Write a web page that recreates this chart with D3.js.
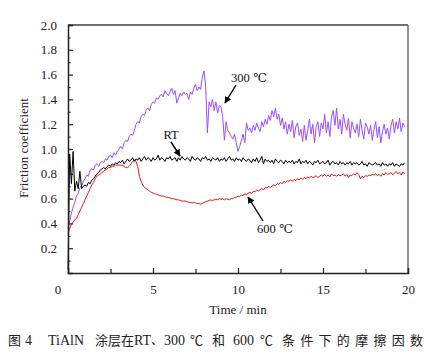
<!DOCTYPE html>
<html><head><meta charset="utf-8">
<script src="https://cdn.jsdelivr.net/npm/d3@7/dist/d3.min.js"></script>
<style>body{margin:0;background:#fff}svg{display:block}
svg text{font-family:"Liberation Serif","DejaVu Serif",serif}
svg text.cjk{font-family:"Noto Sans CJK SC",sans-serif}</style>
</head><body>
<svg id="c" width="431" height="359"></svg>
<script>
// sampling interval of the recorded curves (min)
const timeStep = 0.1;
// RT (black)
const rtValues = [
0.03,0.96,0.72,0.98,0.66,0.74,0.68,0.82,0.68,0.70,
0.71,0.70,0.73,0.72,0.75,0.76,0.78,0.80,0.81,0.83,
0.84,0.85,0.84,0.86,0.87,0.86,0.88,0.87,0.89,0.88,
0.90,0.89,0.91,0.88,0.90,0.92,0.90,0.91,0.93,0.90,
0.92,0.91,0.93,0.90,0.92,0.94,0.91,0.93,0.92,0.90,
0.93,0.91,0.92,0.95,0.91,0.93,0.92,0.90,0.93,0.92,
0.94,0.91,0.92,0.93,0.90,0.93,0.91,0.94,0.92,0.91,
0.93,0.92,0.90,0.94,0.92,0.91,0.93,0.92,0.90,0.93,
0.92,0.94,0.91,0.92,0.90,0.93,0.92,0.91,0.93,0.90,
0.92,0.91,0.93,0.90,0.92,0.94,0.91,0.92,0.90,0.93,
0.91,0.92,0.90,0.93,0.91,0.90,0.92,0.91,0.89,0.92,
0.90,0.93,0.89,0.91,0.94,0.88,0.92,0.90,0.91,0.89,
0.91,0.88,0.92,0.90,0.89,0.91,0.90,0.88,0.91,0.89,
0.90,0.89,0.91,0.88,0.90,0.89,0.92,0.88,0.90,0.89,
0.91,0.88,0.90,0.89,0.87,0.90,0.89,0.91,0.88,0.89,
0.90,0.88,0.89,0.91,0.87,0.89,0.90,0.88,0.89,0.87,
0.90,0.88,0.89,0.87,0.89,0.88,0.90,0.87,0.89,0.88,
0.89,0.87,0.88,0.90,0.87,0.88,0.86,0.89,0.88,0.87,
0.88,0.89,0.87,0.88,0.86,0.89,0.87,0.88,0.86,0.88,
0.87,0.89,0.86,0.88,0.87,0.86,0.88,0.87,0.89];
// 300 °C (purple)
const t300Values = [
0.36,0.42,0.48,0.53,0.57,0.62,0.64,0.69,0.70,0.74,
0.76,0.79,0.78,0.83,0.84,0.83,0.87,0.88,0.86,0.89,
0.90,0.89,0.92,0.91,0.94,0.95,0.93,0.97,0.95,0.98,
1.00,1.02,1.00,1.05,1.07,1.06,1.10,1.12,1.11,1.15,
1.20,1.22,1.21,1.26,1.28,1.27,1.32,1.33,1.31,1.36,
1.38,1.37,1.41,1.40,1.43,1.44,1.42,1.47,1.45,1.43,
1.46,1.49,1.44,1.47,1.37,1.41,1.45,1.43,1.46,1.44,
1.45,1.40,1.46,1.44,1.49,1.52,1.47,1.50,1.48,1.58,
1.63,1.50,1.13,1.38,1.34,1.40,1.31,1.38,1.29,1.35,
1.34,1.26,1.07,1.22,1.15,1.13,1.10,1.08,1.12,1.05,
0.98,1.02,1.07,1.12,1.05,1.21,1.15,1.17,1.13,1.19,
1.15,1.21,1.17,1.14,1.22,1.18,1.24,1.20,1.27,1.23,
1.31,1.26,1.33,1.24,1.28,1.19,1.25,1.16,1.22,1.12,
1.20,1.14,1.23,1.09,1.18,1.21,1.11,1.16,1.06,1.19,
1.07,1.15,1.24,1.12,1.20,1.05,1.18,1.22,1.10,1.21,
1.16,1.28,1.13,1.22,1.10,1.26,1.31,1.19,1.33,1.16,
1.24,1.12,1.28,1.20,1.15,1.25,1.09,1.22,1.17,1.13,
1.20,1.10,1.24,1.15,1.08,1.21,1.18,1.12,1.19,1.07,
1.16,1.22,1.09,1.18,1.05,1.14,1.20,1.12,1.17,1.08,
1.19,1.24,1.13,1.22,1.16,1.25,1.14,1.21,1.18];
// 600 °C (red)
const t600Values = [
0.32,0.36,0.39,0.41,0.43,0.44,0.47,0.50,0.53,0.56,
0.59,0.62,0.65,0.68,0.71,0.73,0.76,0.78,0.79,0.80,
0.81,0.82,0.83,0.84,0.85,0.85,0.86,0.86,0.87,0.87,
0.87,0.87,0.87,0.86,0.85,0.85,0.86,0.88,0.90,0.91,
0.90,0.86,0.78,0.74,0.71,0.69,0.68,0.67,0.66,0.65,
0.645,0.64,0.635,0.63,0.625,0.62,0.62,0.615,0.61,0.61,
0.605,0.60,0.60,0.595,0.59,0.59,0.585,0.58,0.58,0.58,
0.575,0.57,0.57,0.565,0.57,0.565,0.56,0.56,0.555,0.56,
0.57,0.575,0.58,0.585,0.59,0.585,0.59,0.595,0.59,0.60,
0.595,0.60,0.59,0.60,0.595,0.59,0.60,0.60,0.61,0.61,
0.62,0.615,0.63,0.625,0.64,0.63,0.645,0.65,0.64,0.66,
0.655,0.67,0.66,0.675,0.68,0.67,0.69,0.685,0.70,0.69,
0.70,0.71,0.705,0.72,0.715,0.73,0.72,0.74,0.73,0.745,
0.74,0.75,0.74,0.755,0.745,0.76,0.75,0.765,0.755,0.77,
0.76,0.775,0.765,0.78,0.77,0.775,0.785,0.77,0.78,0.79,
0.78,0.795,0.78,0.79,0.775,0.80,0.785,0.79,0.78,0.795,
0.785,0.79,0.80,0.78,0.795,0.77,0.79,0.785,0.80,0.79,
0.81,0.795,0.76,0.78,0.77,0.785,0.78,0.79,0.785,0.795,
0.79,0.80,0.785,0.795,0.78,0.80,0.79,0.81,0.795,0.80,
0.81,0.79,0.805,0.82,0.80,0.81,0.79,0.815,0.80];

const yMajorTicks = [0.2,0.4,0.6,0.8,1.0,1.2,1.4,1.6,1.8,2.0];
const yMinorTicks = [0.1,0.3,0.5,0.7,0.9,1.1,1.3,1.5,1.7,1.9];
const xMajorTicks = [0,5,10,15,20];
const xMinorTicks = [2.5,7.5,12.5,17.5];

const seriesNames = ["RT","300 ℃","600 ℃"];
const seriesColors = ["#000000","#9b4dff","#e3161c"];

const svg = d3.select("#c");
const L=68,R=408,T=25,B=273;
const x = d3.scaleLinear().domain([0,20]).range([L,R]);
const y = d3.scaleLinear().domain([0,2]).range([B,T]);

// frame
svg.append("line").attr("x1",L).attr("x2",R).attr("y1",T).attr("y2",T).attr("stroke","#6e6e6e").attr("stroke-width",1.8);
svg.append("line").attr("x1",R).attr("x2",R).attr("y1",T).attr("y2",B).attr("stroke","#6e6e6e").attr("stroke-width",1.5);

const line = d3.line().x((d,i)=>x(i*timeStep)).y(d=>y(d));
const allSeries = [rtValues,t300Values,t600Values];
[2,1,0].forEach(k=>{
  svg.append("path").datum(allSeries[k]).attr("d",line).attr("fill","none")
    .attr("stroke",seriesColors[k]).attr("stroke-width",1).attr("stroke-linejoin","round");
});

// axes
svg.append("g").attr("transform",`translate(${L},0)`)
  .call(d3.axisLeft(y).tickValues(yMajorTicks).tickSize(-5).tickPadding(11).tickFormat(d3.format(".1f")));
svg.append("g").attr("transform",`translate(${L},0)`)
  .call(d3.axisLeft(y).tickValues(yMinorTicks).tickSize(-2.5).tickFormat(""))
  .select(".domain").remove();
const gx = svg.append("g").attr("transform",`translate(0,${B})`)
  .call(d3.axisBottom(x).tickValues(xMajorTicks).tickSize(-5).tickPadding(11.5).tickFormat(d3.format("d")));
svg.append("g").attr("transform",`translate(0,${B})`)
  .call(d3.axisBottom(x).tickValues(xMinorTicks).tickSize(-4).tickFormat(""))
  .select(".domain").remove();
gx.selectAll(".tick").filter(d=>d===0).select("line").remove();
gx.selectAll(".tick").filter(d=>d===0).select("text").attr("dx",-10.5);
svg.selectAll(".domain").attr("stroke","#222").attr("stroke-width",1.5);
svg.selectAll(".tick line").attr("stroke","#222").attr("stroke-width",1.2);
svg.selectAll(".tick text").attr("font-size",13).attr("fill","#222");

// axis titles
svg.append("text").attr("transform","translate(28,148) rotate(-90)").attr("text-anchor","middle")
  .attr("font-size",13).attr("fill","#222").text("Friction coefficient");
svg.append("text").attr("x",238).attr("y",314).attr("text-anchor","middle")
  .attr("font-size",13).attr("fill","#222").text("Time / min");

// annotations
const defs = svg.append("defs");
defs.append("marker").attr("id","ah").attr("viewBox","0 0 10 10").attr("refX",9).attr("refY",5)
  .attr("markerWidth",5).attr("markerHeight",5).attr("orient","auto")
  .append("path").attr("d","M0,0L10,5L0,10z").attr("fill","#000");
const ann = [
  {name:seriesNames[0], tx:171, ty:139, ax1:171, ay1:142, ax2:180, ay2:156},
  {name:seriesNames[1], tx:249, ty:82,  ax1:236, ay1:85,  ax2:225, ay2:103},
  {name:seriesNames[2], tx:275, ty:233, ax1:263, ay1:221, ax2:248, ay2:197}
];
ann.forEach(a=>{
  svg.append("text").attr("x",a.tx).attr("y",a.ty).attr("text-anchor","middle")
    .attr("font-size",12.5).attr("fill","#111").text(a.name);
  svg.append("line").attr("x1",a.ax1).attr("y1",a.ay1).attr("x2",a.ax2).attr("y2",a.ay2)
    .attr("stroke","#000").attr("stroke-width",1.4).attr("marker-end","url(#ah)");
});

// caption pieces
const caption = [
  {t:"图",x:8,cjk:1},{t:"4",x:25},{t:"TiAlN",x:48},{t:"涂层在",x:95,cjk:1},
  {t:"RT",x:134},{t:"、",x:151,cjk:1,fs:12},{t:"300",x:164},{t:"℃",x:190,cjk:1},{t:"和",x:212,cjk:1},
  {t:"600",x:233},{t:"℃",x:260,cjk:1},{t:"条件下的摩擦因数",x:282,cjk:1,w:141}
];
caption.forEach(c=>{
  const tx = svg.append("text").attr("x",c.x).attr("y",345).attr("font-size",c.fs||(c.cjk?13:14))
    .attr("fill","#222").classed("cjk",!!c.cjk).text(c.t);
  if(c.w) tx.attr("textLength",c.w).attr("lengthAdjust","spacing");
});
</script>
</body></html>
